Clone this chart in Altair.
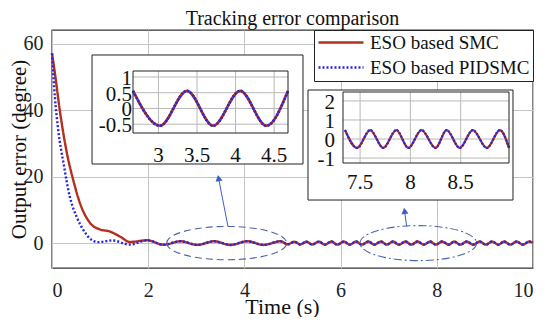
import altair as alt
import pandas as pd

# ---------------- data ----------------
SERIES = ["ESO based SMC", "ESO based PIDSMC"]
COLORS = ["#b3301f", "#2626e0"]
DASHES = [[1, 0], [2, 2]]

# initial transient of each controller
SMC_T0 = [0.0, 0.06, 0.17, 0.31, 0.44, 0.58, 0.79, 1.00, 1.20, 1.41, 1.62]
SMC_V0 = [57.2, 51.2, 39.2, 27.1, 19.1, 12.1, 6.1, 4.1, 3.5, 2.0, 0.35]
PID_T0 = [0.0, 0.06, 0.13, 0.24, 0.37, 0.51, 0.65, 0.82, 0.96, 1.25, 1.62]
PID_V0 = [57.2, 44.0, 34.0, 24.0, 14.0, 8.0, 4.0, 1.0, 0.3, 0.8, -0.45]

# common steady-state oscillation (peaks / troughs)
TAIL_T = [1.98, 2.32, 2.67, 3.02, 3.37, 3.71, 4.06, 4.40, 4.75, 4.90,
          5.04, 5.16, 5.29, 5.41, 5.55, 5.67, 5.81, 5.93, 6.07, 6.19,
          6.32, 6.44, 6.58, 6.70, 6.84, 6.96, 7.09, 7.21, 7.35, 7.47,
          7.60, 7.73, 7.86, 7.98, 8.11, 8.25, 8.36, 8.49, 8.62, 8.76,
          8.89, 9.02, 9.15, 9.28, 9.40, 9.53, 9.66, 9.79, 9.92, 10.0]
TAIL_V = [0.85, -0.50, 0.56, -0.55, 0.56, -0.55, 0.56, -0.55, 0.56, -0.35,
          0.40, -0.40, 0.42, -0.42, 0.45, -0.45, 0.47, -0.47, 0.47, -0.47,
          0.47, -0.47, 0.47, -0.47, 0.47, -0.47, 0.47, -0.47, 0.47, -0.47,
          0.47, -0.47, 0.47, -0.47, 0.47, -0.47, 0.47, -0.47, 0.47, -0.47,
          0.47, -0.47, 0.47, -0.47, 0.47, -0.47, 0.47, -0.47, 0.47, 0.10]

X_TICKS = [0, 2, 4, 6, 8, 10]
Y_TICKS = [0, 20, 40, 60]
X_DOM = [0, 10]
Y_DOM = [-7.5, 64.2]

INSET1_XTICKS = [3, 3.5, 4, 4.5]
INSET1_XLABELS = ["3", "3.5", "4", "4.5"]
INSET1_YTICKS = [-0.5, 0, 0.5, 1]
INSET1_YLABELS = ["-0.5", "0", "0.5", "1"]
INSET2_XTICKS = [7.5, 8, 8.5]
INSET2_XLABELS = ["7.5", "8", "8.5"]
INSET2_YTICKS = [-1, 0, 1, 2]
INSET2_YLABELS = ["-1", "0", "1", "2"]

FONT = "Liberation Serif"
W, H = 481, 238
ANNO = "#4a64b0"
ARROW = "#3a60c8"

rows = []
for s, t0, v0 in [(SERIES[0], SMC_T0, SMC_V0), (SERIES[1], PID_T0, PID_V0)]:
    for t, v in zip(t0 + TAIL_T, v0 + TAIL_V):
        rows.append({"series": s, "t": t, "v": v})
df = pd.DataFrame(rows)

xs = alt.Scale(domain=X_DOM, nice=False, zero=False)
ys = alt.Scale(domain=Y_DOM, nice=False, zero=False)
XAX = alt.Axis(values=X_TICKS, title="Time (s)", labelPadding=12, titleY=45,
               titleX=230, titleBaseline="alphabetic", titleAlign="center")
YAX = alt.Axis(values=Y_TICKS, title="Output error (degree)", labelPadding=9,
               titleX=-27, titleY=119, titleAngle=270, titleFontSize=21,
               titleBaseline="alphabetic", titleAlign="center")


def X(f="t"):
    return alt.X(f"{f}:Q", scale=xs, axis=XAX)


def Y(f="v"):
    return alt.Y(f"{f}:Q", scale=ys, axis=YAX)


lines = alt.Chart(df).mark_line(interpolate="monotone", strokeWidth=2.4).encode(
    x=X(), y=Y(),
    color=alt.Color("series:N", scale=alt.Scale(domain=SERIES, range=COLORS), title=None),
    strokeDash=alt.StrokeDash("series:N", scale=alt.Scale(domain=SERIES, range=DASHES), title=None),
)


def ellipse_path(r):
    k = 0.5523
    kr = k * r
    return (f"M -1 0 C -1 {-kr:.4f} {-k} {-r} 0 {-r} C {k} {-r} 1 {-kr:.4f} 1 0 "
            f"C 1 {kr:.4f} {k} {r} 0 {r} C {-k} {r} -1 {kr:.4f} -1 0 Z")


ell1 = alt.Chart(pd.DataFrame({"t": [3.632], "v": [0.0]})).mark_point(
    shape=ellipse_path(0.278), size=14400, filled=False, stroke=ANNO,
    strokeWidth=1.1, strokeDash=[7, 4], opacity=1).encode(x=X(), y=Y())
ell2 = alt.Chart(pd.DataFrame({"t": [7.615], "v": [0.0]})).mark_point(
    shape=ellipse_path(0.30), size=13595, filled=False, stroke=ANNO,
    strokeWidth=1.1, strokeDash=[8, 3, 2, 3], opacity=1).encode(x=X(), y=Y())

arrows = alt.Chart(pd.DataFrame({"t": [3.659, 7.374], "v": [5.0, 5.0],
                                 "t2": [3.462, 7.330], "v2": [19.6, 9.7]})).mark_rule(
    color=ARROW, strokeWidth=1).encode(x=X(), y=Y(), x2="t2:Q", y2="v2:Q")
head1 = alt.Chart(pd.DataFrame({"t": [3.462], "v": [19.6]})).mark_point(
    shape="triangle-up", filled=True, color=ARROW, size=50, angle=349, opacity=1).encode(x=X(), y=Y())
head2 = alt.Chart(pd.DataFrame({"t": [7.330], "v": [9.7]})).mark_point(
    shape="triangle-up", filled=True, color=ARROW, size=50, angle=352, opacity=1).encode(x=X(), y=Y())

boxes = alt.Chart(pd.DataFrame({"t": [0.832, 5.322], "t2": [5.218, 9.584],
                                "v": [23.83, 12.98], "v2": [56.67, 46.12]})).mark_rect(
    fill="white", stroke="#222", strokeWidth=1).encode(x=X(), y=Y(), x2="t2:Q", y2="v2:Q")

main = alt.layer(lines, ell1, ell2, arrows, head1, head2, boxes)


def inset(xdom, xrng, ydom, yrng, xticks, xlabels, yticks, ylabels,
          t_lo, t_hi, xdy, ydx, ydy, lw):
    sx = alt.Scale(domain=xdom, range=xrng, nice=False, zero=False, clamp=True)
    sy = alt.Scale(domain=ydom, range=yrng, nice=False, zero=False)

    def IX(f):
        return alt.X(f"{f}:Q", scale=sx, axis=None)

    def IY(f):
        return alt.Y(f"{f}:Q", scale=sy, axis=None)

    gx = pd.DataFrame({"x": xticks, "ylo": ydom[0], "yhi": ydom[1], "label": xlabels})
    gy = pd.DataFrame({"y": yticks, "xlo": xdom[0], "xhi": xdom[1], "label": ylabels})
    grid_x = alt.Chart(gx).mark_rule(color="#b8b8b8", strokeWidth=1).encode(
        x=IX("x"), y=IY("ylo"), y2="yhi:Q")
    grid_y = alt.Chart(gy).mark_rule(color="#b8b8b8", strokeWidth=1).encode(
        y=IY("y"), x=IX("xlo"), x2="xhi:Q")
    sel = (alt.datum.t >= t_lo) & (alt.datum.t <= t_hi)
    l1 = alt.Chart(df).transform_filter(sel & (alt.datum.series == SERIES[0])).mark_line(
        color=COLORS[0], strokeWidth=lw, interpolate="monotone").encode(x=IX("t"), y=IY("v"))
    l2 = alt.Chart(df).transform_filter(sel & (alt.datum.series == SERIES[1])).mark_line(
        color=COLORS[1], strokeWidth=lw, strokeDash=[2, 1.5], interpolate="monotone").encode(
        x=IX("t"), y=IY("v"))
    frame = alt.Chart(pd.DataFrame({"x": [xdom[0]], "x2": [xdom[1]], "y": [ydom[0]], "y2": [ydom[1]]})).mark_rect(
        fill="white", fillOpacity=0, stroke="#222", strokeWidth=1).encode(
        x=IX("x"), x2="x2:Q", y=IY("y"), y2="y2:Q")
    xl = alt.Chart(gx).mark_text(font=FONT, fontSize=21, color="#111", align="center",
                                 baseline="middle", dy=xdy).encode(x=IX("x"), y=IY("ylo"), text="label:N")
    yl = alt.Chart(gy).mark_text(font=FONT, fontSize=21, color="#111", align="right",
                                 baseline="middle", dx=-ydx, dy=ydy).encode(x=IX("xlo"), y=IY("y"), text="label:N")
    return alt.layer(grid_x, grid_y, l1, l2, frame, xl, yl)


in1 = inset([2.67, 4.68], [81, 236], [-0.78, 1.19], [103, 41],
            INSET1_XTICKS, INSET1_XLABELS, INSET1_YTICKS, INSET1_YLABELS,
            2.65, 4.76, 23, 1, 2, 2.6)
in2 = inset([7.33, 8.98], [291, 457], [-1.26, 2.47], [133, 62],
            INSET2_XTICKS, INSET2_XLABELS, INSET2_YTICKS, INSET2_YLABELS,
            7.31, 9.03, 20, 8, 2, 2.2)

chart = alt.layer(main, in1, in2).resolve_scale(x="independent", y="independent").properties(
    width=W, height=H,
    title=alt.TitleParams("Tracking error comparison", font=FONT, fontSize=20,
                          fontWeight="normal", color="#111", anchor="middle", offset=1),
    padding={"left": 44, "top": 22, "right": 9, "bottom": 49},
    autosize=alt.AutoSizeParams(type="none"),
).configure_view(stroke="#333", strokeWidth=1.4).configure_axis(
    labelFont=FONT, labelFontSize=20, labelColor="#222", titleFont=FONT,
    titleFontSize=22, titleFontWeight="normal", titleColor="#111",
    gridColor="#c4c4c4", gridWidth=1, domain=False, ticks=False,
).configure_legend(
    orient="top-right", offset=0, padding=3, fillColor="white", strokeColor="#222",
    labelFont=FONT, labelFontSize=19, labelColor="#111", symbolSize=2025,
    symbolStrokeWidth=2.5, symbolType="stroke", rowPadding=5, labelOffset=5,
    labelLimit=400, clipHeight=19,
)

chart.save("out.html", embed_options={"renderer": "svg", "actions": False})
